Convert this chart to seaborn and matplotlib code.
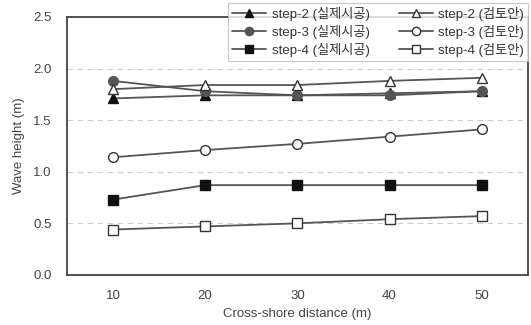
import pandas as pd
import seaborn as sns
import matplotlib.pyplot as plt

sns.set_style("white")
plt.rcParams['font.family'] = ['Liberation Sans', 'Noto Sans CJK KR', 'DejaVu Sans']

# 데이터
distance = [10, 20, 30, 40, 50]
step2_real = [1.71, 1.74, 1.74, 1.76, 1.78]
step2_plan = [1.80, 1.84, 1.84, 1.88, 1.91]
step3_real = [1.88, 1.78, 1.74, 1.74, 1.78]
step3_plan = [1.14, 1.21, 1.27, 1.34, 1.41]
step4_real = [0.73, 0.87, 0.87, 0.87, 0.87]
step4_plan = [0.44, 0.47, 0.50, 0.54, 0.57]

series = [
    ("step-2 (실제시공)", step2_real, "^", "#111111"),
    ("step-3 (실제시공)", step3_real, "o", "#555555"),
    ("step-4 (실제시공)", step4_real, "s", "#111111"),
    ("step-2 (검토안)", step2_plan, "^", "white"),
    ("step-3 (검토안)", step3_plan, "o", "white"),
    ("step-4 (검토안)", step4_plan, "s", "white"),
]

fig = plt.figure(figsize=(5.31, 3.25), dpi=100)
ax = fig.add_axes([0.126, 0.154, 0.868, 0.794])

for name, vals, mk, fc in series:
    ec = "#333333" if fc == "white" else fc
    sns.lineplot(x=distance, y=vals, ax=ax, label=name, color="#555555",
                 linewidth=1.3, marker=mk, markersize=7,
                 markerfacecolor=fc, markeredgecolor=ec, markeredgewidth=1.0)

ax.set_xlim(5, 55)
ax.set_ylim(0, 2.5)
ax.set_xticks(distance)
ax.set_xticks([15, 25, 35, 45], minor=True)
ax.set_yticks([0, 0.5, 1.0, 1.5, 2.0, 2.5])
ax.set_yticklabels(["0.0", "0.5", "1.0", "1.5", "2.0", "2.5"])
ax.yaxis.grid(True, linestyle=(0, (5, 4)), color="#cccccc", linewidth=0.8)
ax.tick_params(axis="both", labelsize=9.5, colors="#444444", length=4)
ax.tick_params(axis="x", which="minor", direction="in", length=3, color="#888888")
ax.tick_params(axis="x", which="major", length=0, pad=11)
ax.tick_params(axis="y", color="#bbbbbb", length=5, pad=6)
for s in ax.spines.values():
    s.set_color("#444444")
    s.set_linewidth(1.3)

ax.set_xlabel("Cross-shore distance (m)", fontsize=9.5, color="#444444", labelpad=4)
ax.set_ylabel("Wave height (m)", fontsize=9.5, color="#444444", labelpad=6)

handles, labels = ax.get_legend_handles_labels()
ax.legend().remove()
leg = fig.legend(handles, labels, ncol=2, loc="upper right",
                 bbox_to_anchor=(0.999, 1.0), fontsize=9.5, frameon=True,
                 fancybox=False, edgecolor="#bbbbbb", handlelength=2.6,
                 handletextpad=0.4, columnspacing=2.2, labelspacing=0.32,
                 borderpad=0.3, borderaxespad=0.2, markerscale=0.85)
leg.get_frame().set_linewidth(0.8)
for t in leg.get_texts():
    t.set_color("#333333")

fig.savefig("out.png", dpi=100)
